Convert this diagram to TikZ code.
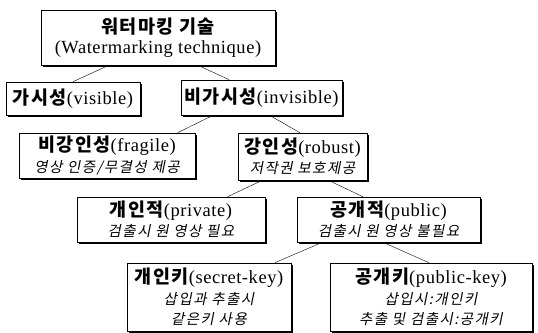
\documentclass[tikz,border=0pt]{standalone}
\usepackage{fontspec}
\setmainfont[LetterSpace=3]{Liberation Serif}
\newfontfamily\krb[LetterSpace=8]{Noto Sans CJK KR}
\newfontfamily\kri[FakeSlant=0.2,LetterSpace=10]{Noto Sans CJK KR}
\usetikzlibrary{calc,shadows}
\begin{document}
\begin{tikzpicture}[x=1pt,y=-1pt,
          b/.style={draw,fill=white,semithick,align=center,inner sep=1pt,
            drop shadow={shadow xshift=2pt,shadow yshift=-2pt,fill=black,opacity=1},
            font=\fontsize{18.5}{20.5}\selectfont}
          ]
          \useasboundingbox (0,0) rectangle (538,332);
          \node[b,minimum width=234pt,minimum height=55pt] (wm) at (158,37.5)
            {{\krb\bfseries 워터마킹 기술}\\(Watermarking technique)};
          \node[b,minimum width=134pt,minimum height=33pt] (vis) at (73,98.5)
            {{\krb\bfseries 가시성}(visible)};
          \node[b,minimum width=161pt,minimum height=35pt] (inv) at (261.5,97.5)
            {{\krb\bfseries 비가시성}(invisible)};
          \node[b,minimum width=176pt,minimum height=45pt] (frg) at (107,155.5)
            {{\krb\bfseries 비강인성}(fragile)\\{\kri\fontsize{14.5}{20.5}\selectfont 영상 인증/무결성 제공}};
          \node[b,minimum width=129pt,minimum height=47pt] (rob) at (302.5,156.5)
            {{\krb\bfseries 강인성}(robust)\\{\kri\fontsize{14.5}{20.5}\selectfont 저작권 보호제공}};
          \node[b,minimum width=188pt,minimum height=45pt] (prv) at (171,219.5)
            {{\krb\bfseries 개인적}(private)\\{\kri\fontsize{14.5}{20.5}\selectfont 검출시 원 영상 필요}};
          \node[b,minimum width=183pt,minimum height=45pt] (pub) at (388.5,219.5)
            {{\krb\bfseries 공개적}(public)\\{\kri\fontsize{14.5}{20.5}\selectfont 검출시 원 영상 불필요}};
          \node[b,minimum width=164pt,minimum height=68pt] (sk) at (209,297)
            {{\krb\bfseries 개인키}(secret-key)\\{\kri\fontsize{14.5}{20.5}\selectfont 삽입과 추출시}\\{\kri\fontsize{14.5}{20.5}\selectfont 같은키 사용}};
          \node[b,minimum width=202pt,minimum height=68pt] (pk) at (431,297)
            {{\krb\bfseries 공개키}(public-key)\\{\kri\fontsize{14.5}{20.5}\selectfont 삽입시:개인키}\\{\kri\fontsize{14.5}{20.5}\selectfont 추출 및 검출시:공개키}};
          % tree edges
          \draw ($(wm.south west)!.29!(wm.south east)$) to (vis.north);
          \draw ($(wm.south west)!.67!(wm.south east)$) to ($(inv.north west)!.30!(inv.north east)$);
          \draw ($(inv.south west)!.20!(inv.south east)$) to ($(frg.north west)!.90!(frg.north east)$);
          \draw ($(inv.south west)!.55!(inv.south east)$) to ($(rob.north west)!.48!(rob.north east)$);
          \draw ($(rob.south west)!.19!(rob.south east)$) to ($(prv.north west)!.80!(prv.north east)$);
          \draw ($(rob.south west)!.70!(rob.south east)$) to ($(pub.north west)!.36!(pub.north east)$);
          \draw ($(pub.south west)!.14!(pub.south east)$) to ($(sk.north west)!.90!(sk.north east)$);
          \draw ($(pub.south west)!.47!(pub.south east)$) to ($(pk.north west)!.49!(pk.north east)$);
        \end{tikzpicture}
\end{document}
